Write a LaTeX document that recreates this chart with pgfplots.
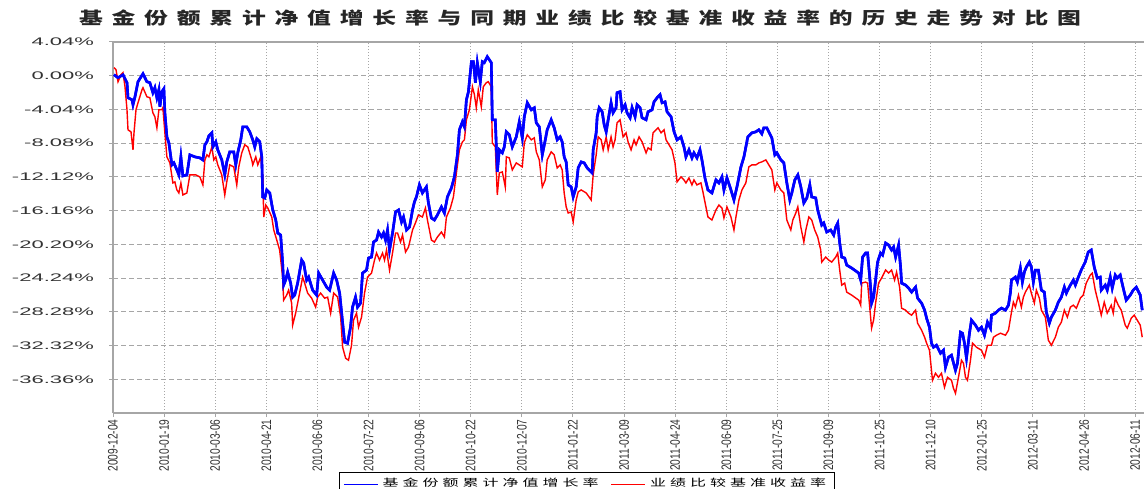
\documentclass[border=0pt]{standalone}
\usepackage{fontspec}
\setmainfont{Liberation Sans}
\newfontfamily\cjkt[LetterSpace=37]{Noto Sans CJK SC}
\newfontfamily\cjkl[LetterSpace=25]{Noto Sans CJK SC}
\usepackage{graphicx}
\usepackage{pgfplots}
\usepackage{pgfplotstable}
\pgfplotsset{compat=1.18}

\pgfplotstableread{
day val
0.9 0.12
4.5 -0.24
9.0 0.12
12.6 -0.84
13.5 -2.64
17.1 -2.88
18.0 -3.48
19.8 -2.52
22.5 -0.72
27.0 0.24
30.5 -0.72
33.2 -0.84
35.9 -2.04
37.7 -1.44
39.5 -2.64
41.3 -1.68
42.2 -3.72
44.0 -1.92
45.8 -1.56
46.7 -4.44
48.5 -7.32
50.3 -8.04
53.0 -10.68
54.8 -10.44
57.5 -11.28
59.3 -11.88
61.1 -9.72
62.9 -12.00
66.5 -11.88
69.2 -9.48
73.7 -9.72
78.2 -9.84
80.9 -10.08
82.7 -8.28
84.5 -7.92
86.3 -7.20
89.0 -6.84
89.9 -8.52
92.5 -7.92
94.3 -8.88
97.9 -10.08
100.6 -11.88
102.4 -10.32
105.1 -9.12
108.7 -9.12
110.5 -10.68
112.3 -9.24
115.0 -7.68
116.8 -6.12
120.4 -6.12
123.1 -6.72
125.8 -7.68
127.6 -8.52
129.4 -7.56
132.1 -7.92
133.9 -9.72
134.8 -14.52
136.6 -14.64
138.4 -13.68
141.1 -14.04
143.8 -16.08
146.5 -17.28
148.3 -18.84
150.9 -19.08
152.7 -22.44
153.6 -25.08
155.4 -24.48
157.2 -23.52
159.9 -24.84
161.7 -26.52
163.5 -26.28
166.2 -24.84
169.8 -22.08
171.6 -22.44
174.3 -24.48
176.1 -24.12
179.7 -25.68
183.3 -26.28
185.1 -23.64
188.7 -24.48
192.3 -25.32
195.0 -25.68
198.6 -23.64
201.3 -24.48
204.0 -26.04
206.7 -29.64
208.5 -31.92
211.1 -32.04
213.8 -30.12
215.6 -27.72
218.3 -26.52
220.1 -27.72
222.8 -27.24
224.6 -23.64
228.2 -23.28
230.0 -21.84
232.7 -21.72
234.5 -19.92
237.2 -19.68
239.0 -18.72
241.7 -19.32
243.5 -18.84
245.3 -19.68
247.1 -18.48
248.9 -20.88
251.6 -18.84
254.3 -16.32
257.0 -16.08
259.7 -17.52
261.5 -16.92
264.2 -18.48
266.9 -18.12
269.6 -16.08
271.3 -15.12
273.1 -14.52
275.8 -13.08
278.5 -14.04
282.1 -13.32
283.9 -15.24
286.6 -17.04
289.3 -17.28
292.0 -16.68
295.6 -15.72
298.3 -16.44
301.0 -14.52
304.6 -13.44
307.3 -12.12
310.0 -9.48
311.8 -6.48
314.5 -5.52
316.3 -6.12
318.1 -2.88
319.9 -1.92
322.6 1.68
324.4 1.68
326.2 -0.84
327.9 1.56
330.6 -0.72
332.4 1.68
334.2 1.56
336.9 2.28
340.5 1.56
341.4 -5.28
344.1 -5.28
345.9 -11.52
347.7 -8.88
350.4 -9.24
352.2 -8.52
354.0 -6.72
356.7 -7.08
359.4 -8.52
363.0 -7.32
365.7 -5.52
368.4 -7.44
370.2 -4.92
372.9 -3.24
376.5 -4.08
379.2 -3.84
381.0 -5.64
383.7 -6.12
386.4 -9.48
389.1 -7.68
390.8 -6.48
394.4 -5.28
397.1 -6.24
399.8 -7.68
402.5 -7.32
404.3 -7.92
406.1 -9.72
407.9 -10.32
409.7 -13.08
412.4 -13.32
414.2 -14.52
416.9 -13.32
418.7 -11.04
421.4 -10.32
424.1 -10.44
426.8 -11.04
431.3 -11.64
432.2 -8.88
434.9 -6.84
435.8 -4.92
437.6 -3.84
440.3 -4.32
442.1 -5.88
443.9 -6.72
445.7 -5.28
448.3 -3.24
450.1 -4.44
452.8 -3.84
453.7 -2.04
456.4 -1.92
458.2 -4.08
460.9 -3.48
462.7 -4.44
465.4 -5.04
467.2 -3.84
469.9 -4.92
471.7 -3.48
474.4 -3.84
476.2 -5.04
479.8 -5.28
481.6 -4.32
485.2 -4.08
487.0 -3.12
489.7 -2.64
492.4 -2.28
494.2 -3.24
496.9 -3.12
498.7 -4.32
502.3 -4.92
505.0 -6.72
507.7 -7.68
511.2 -7.32
513.9 -8.52
515.7 -9.72
518.4 -8.88
521.1 -9.84
522.9 -9.24
525.6 -9.84
528.3 -8.88
530.1 -10.08
532.8 -12.24
535.5 -13.68
539.1 -14.04
542.7 -12.48
545.4 -12.84
548.1 -12.12
549.9 -13.68
552.6 -12.24
556.2 -13.68
558.9 -14.88
561.6 -13.32
565.2 -10.92
567.9 -9.72
571.4 -7.32
575.0 -6.84
578.6 -6.72
581.3 -6.48
584.0 -6.96
585.8 -6.24
588.5 -6.24
590.3 -6.72
593.0 -7.44
595.7 -9.48
597.5 -9.24
601.1 -10.08
603.8 -10.44
606.5 -12.84
609.2 -14.88
611.0 -14.04
613.7 -12.48
616.4 -11.88
619.1 -13.32
621.8 -15.24
624.5 -14.64
627.2 -13.08
628.9 -14.52
632.5 -14.64
634.3 -16.08
637.9 -17.88
639.7 -17.64
642.4 -18.72
646.0 -18.48
648.7 -19.08
650.5 -18.12
652.3 -17.64
654.1 -20.04
655.9 -21.72
658.6 -21.84
660.4 -22.68
664.9 -23.04
671.2 -23.64
673.0 -24.48
674.7 -21.72
677.4 -21.24
679.2 -21.24
681.9 -25.32
682.8 -27.24
684.6 -26.52
686.4 -24.48
688.2 -22.32
690.9 -21.24
692.7 -21.48
695.4 -20.04
698.1 -20.28
700.8 -20.88
702.6 -20.52
704.4 -21.72
707.1 -20.28
708.9 -22.92
709.8 -24.84
713.4 -25.08
716.1 -25.44
718.8 -25.92
722.4 -25.32
724.2 -26.64
727.8 -27.24
730.5 -28.08
732.3 -29.04
734.9 -30.12
736.7 -32.04
738.5 -32.52
741.2 -32.28
744.8 -33.24
747.5 -32.88
749.3 -34.92
752.0 -33.72
754.7 -33.48
758.3 -35.28
760.1 -34.44
762.8 -30.72
764.6 -30.84
766.4 -32.04
768.2 -33.84
770.9 -30.84
772.7 -29.28
776.3 -29.88
779.0 -30.48
781.7 -30.12
784.4 -31.08
787.1 -29.52
789.8 -30.24
790.7 -28.68
794.3 -28.44
797.0 -28.08
799.7 -27.84
803.3 -28.08
806.0 -27.48
807.8 -25.92
808.7 -24.48
812.2 -24.12
814.0 -24.72
816.7 -23.04
818.5 -24.72
820.3 -23.52
822.1 -22.92
824.8 -22.32
826.6 -22.92
828.4 -24.72
830.2 -23.28
832.9 -23.28
835.6 -25.68
838.3 -25.92
840.1 -28.32
842.8 -29.64
844.6 -28.92
848.2 -28.08
850.9 -27.12
853.6 -26.52
856.3 -25.32
858.1 -26.04
861.7 -25.08
864.4 -24.48
866.2 -25.08
868.9 -24.12
871.5 -23.28
875.1 -22.32
877.8 -21.12
880.5 -20.88
883.2 -22.92
885.9 -24.24
888.6 -24.12
889.5 -25.68
893.1 -25.08
894.9 -25.68
897.6 -24.12
899.4 -25.44
902.1 -23.88
903.9 -24.24
906.6 -23.88
909.3 -25.44
912.0 -26.88
915.6 -26.28
918.3 -25.68
921.0 -25.32
924.6 -26.28
926.4 -28.08
}\fund

\pgfplotstableread{
day val
0.9 0.96
2.7 0.72
4.5 -0.72
7.2 0.12
9.0 0.36
10.8 -1.32
12.6 -4.08
13.5 -6.48
16.2 -6.72
18.0 -8.88
18.9 -6.84
20.7 -4.08
22.5 -3.24
26.1 -1.68
27.0 -1.44
30.5 -2.52
33.2 -2.64
35.9 -4.44
37.7 -4.92
39.5 -6.24
41.3 -4.08
44.0 -4.08
44.9 -3.84
46.7 -6.84
48.5 -9.72
51.2 -10.44
53.9 -12.84
55.7 -12.72
57.5 -13.68
59.3 -14.04
61.1 -12.84
62.9 -14.28
66.5 -14.04
69.2 -11.88
74.6 -11.88
78.2 -12.12
80.9 -13.08
82.7 -10.08
84.5 -9.48
86.3 -9.72
89.0 -8.52
90.7 -10.08
92.5 -9.72
94.3 -10.68
97.9 -11.88
100.6 -14.28
102.4 -12.72
105.1 -10.68
108.7 -10.92
111.4 -13.08
113.2 -10.92
115.9 -9.24
118.6 -8.28
121.3 -8.52
124.9 -10.08
125.8 -10.68
128.5 -9.72
130.3 -10.68
133.0 -9.72
134.8 -12.12
135.7 -16.92
137.5 -15.48
139.3 -15.84
142.9 -16.92
144.7 -18.48
147.4 -19.68
150.0 -20.88
152.7 -24.12
153.6 -26.88
156.3 -26.28
158.1 -25.68
160.8 -27.24
161.7 -29.88
164.4 -28.44
167.1 -26.64
170.7 -24.12
172.5 -24.84
175.2 -26.04
178.8 -26.64
182.4 -27.72
184.2 -26.52
186.9 -26.04
190.5 -26.64
193.2 -26.52
195.9 -28.44
198.6 -26.04
202.2 -26.52
204.9 -28.92
206.7 -32.52
209.4 -33.84
212.0 -34.08
214.7 -32.28
216.5 -29.28
219.2 -28.44
221.0 -30.12
223.7 -28.92
226.4 -26.04
229.1 -24.12
232.7 -23.64
235.4 -22.08
237.2 -21.24
239.9 -22.08
242.6 -21.24
244.4 -22.08
246.2 -20.88
248.9 -23.28
251.6 -21.24
254.3 -18.84
256.1 -18.84
258.8 -19.92
260.6 -19.08
263.3 -21.12
266.0 -20.52
269.6 -18.48
272.2 -17.64
274.9 -16.68
278.5 -16.92
281.2 -15.84
283.0 -17.28
286.6 -19.68
289.3 -19.92
292.0 -19.32
295.6 -18.72
298.3 -19.32
300.1 -16.92
303.7 -15.84
306.4 -14.52
309.1 -11.64
311.8 -8.88
314.5 -7.92
316.3 -7.68
318.1 -5.28
320.8 -4.08
323.5 -1.32
325.3 -2.28
327.0 -3.84
328.8 -1.68
331.5 -3.72
333.3 -1.32
336.0 -0.84
337.8 -0.72
340.5 -1.32
341.4 -8.04
344.1 -8.52
345.9 -14.28
347.7 -11.64
350.4 -11.52
353.1 -13.32
354.0 -9.72
356.7 -9.84
359.4 -11.28
363.0 -10.44
365.7 -10.68
368.4 -10.92
370.2 -8.04
372.9 -7.08
376.5 -7.68
379.2 -7.44
381.0 -9.12
383.7 -10.08
386.4 -13.32
389.1 -12.48
390.8 -10.08
394.4 -9.12
397.1 -9.48
399.8 -11.04
402.5 -10.68
404.3 -11.28
406.1 -14.04
407.9 -15.72
409.7 -16.44
412.4 -16.32
414.2 -17.52
416.9 -14.88
418.7 -13.92
421.4 -13.68
425.9 -14.04
430.4 -14.88
432.2 -11.88
434.9 -9.48
436.7 -7.32
439.4 -7.68
441.2 -8.88
443.9 -7.32
445.7 -8.88
448.3 -7.32
450.1 -8.52
451.9 -7.68
453.7 -5.64
456.4 -5.28
459.1 -7.32
461.8 -6.84
463.6 -7.92
466.3 -8.88
469.0 -7.68
470.8 -8.28
473.5 -7.32
476.2 -7.92
479.8 -9.24
481.6 -8.64
484.3 -8.88
486.1 -6.84
488.8 -6.48
490.6 -6.24
493.3 -6.84
496.0 -6.48
497.8 -7.68
500.5 -8.28
503.2 -8.88
505.8 -10.44
507.7 -12.72
511.2 -12.12
513.9 -12.48
515.7 -12.84
518.4 -12.24
521.1 -13.08
522.9 -12.48
525.6 -13.08
529.2 -12.84
531.0 -13.92
533.7 -15.72
535.5 -16.92
539.1 -17.28
542.7 -16.08
545.4 -15.48
548.1 -15.84
549.9 -17.04
552.6 -15.72
556.2 -16.92
558.9 -18.48
560.7 -16.92
563.4 -14.88
566.1 -13.68
569.6 -12.84
572.3 -10.92
575.0 -10.68
578.6 -10.68
581.3 -10.44
584.0 -10.32
587.6 -10.08
590.3 -10.68
593.0 -11.28
595.7 -13.68
597.5 -12.84
601.1 -13.68
603.8 -14.04
606.5 -17.28
610.1 -18.48
611.9 -17.28
614.6 -16.44
616.4 -15.72
619.1 -18.12
621.8 -19.92
623.6 -18.48
626.3 -16.92
628.9 -17.28
631.6 -18.48
634.3 -19.32
637.0 -20.88
637.9 -22.32
641.5 -21.72
644.2 -22.08
646.9 -22.32
650.5 -21.72
652.3 -21.24
654.1 -23.28
655.9 -25.08
658.6 -24.84
660.4 -25.92
664.9 -26.28
671.2 -26.88
673.0 -27.48
673.9 -24.84
677.4 -24.72
679.2 -24.84
681.9 -28.92
682.8 -30.24
684.6 -29.28
686.4 -27.24
689.1 -24.84
691.8 -24.24
695.4 -23.28
698.1 -23.64
700.8 -23.28
703.5 -24.48
705.3 -23.52
708.0 -25.32
709.8 -27.84
713.4 -28.08
716.1 -28.44
718.8 -28.68
722.4 -28.08
724.2 -29.64
727.8 -30.48
730.5 -31.32
732.3 -32.04
734.9 -32.88
736.7 -35.28
737.6 -36.48
740.3 -35.64
743.0 -36.12
745.7 -35.64
748.4 -37.32
751.1 -36.12
754.7 -36.48
756.5 -37.44
758.3 -38.04
761.0 -36.12
763.7 -34.08
765.5 -34.44
767.3 -36.12
769.1 -36.48
771.8 -34.08
773.6 -32.04
777.2 -32.52
781.7 -32.88
784.4 -33.72
787.1 -32.28
790.7 -32.28
792.5 -31.32
795.2 -31.08
798.8 -30.84
803.3 -31.08
806.0 -30.48
808.7 -28.32
810.4 -27.12
812.2 -27.72
815.0 -26.28
817.6 -27.72
819.4 -26.52
821.2 -25.92
824.8 -25.08
826.6 -26.04
829.3 -27.24
831.1 -25.68
833.8 -26.64
835.6 -28.08
839.2 -28.92
841.9 -31.68
844.6 -32.28
848.2 -31.32
850.9 -30.12
853.6 -29.52
856.3 -28.08
859.0 -28.92
861.7 -27.72
864.4 -27.48
867.1 -27.84
870.7 -26.64
873.3 -26.28
876.0 -24.84
879.6 -23.88
881.4 -23.64
884.1 -25.68
886.8 -27.12
889.5 -28.68
892.2 -27.12
894.9 -28.44
898.5 -27.48
900.3 -28.44
902.1 -26.64
904.8 -27.48
907.5 -28.08
911.1 -29.88
912.9 -30.24
916.5 -29.04
919.2 -28.68
921.9 -29.28
924.6 -29.88
926.4 -31.32
}\bench

\newcommand\sy[1]{\scalebox{2}[1]{#1}}
\newcommand\sx[1]{\scalebox{1}[1.35]{#1}}

\begin{document}
\begin{tikzpicture}[x=1pt,y=1pt]
\useasboundingbox (0,0) rectangle (572,244);
\node[text=black!85] at (290,235) {\scalebox{1.4}[1]{\fontsize{8.5pt}{10pt}\cjkt\bfseries 基金份额累计净值增长率与同期业绩比较基准收益率的历史走势对比图}};
\begin{axis}[
  at={(56.5pt,37.5pt)}, anchor=south west,
  width=515.5pt, height=185.5pt, scale only axis,
  xmin=0, xmax=928, ymin=-40.4, ymax=4.04,
  axis x line*=bottom, axis y line*=left,
  axis line style={gray!70, line width=1pt, -},
  xtick={0,46,...,920},
  xticklabels={\sx{2009-12-04},\sx{2010-01-19},\sx{2010-03-06},\sx{2010-04-21},\sx{2010-06-06},\sx{2010-07-22},\sx{2010-09-06},\sx{2010-10-22},\sx{2010-12-07},\sx{2011-01-22},\sx{2011-03-09},\sx{2011-04-24},\sx{2011-06-09},\sx{2011-07-25},\sx{2011-09-09},\sx{2011-10-25},\sx{2011-12-10},\sx{2012-01-25},\sx{2012-03-11},\sx{2012-04-26},\sx{2012-06-11}},
  ytick={4.04,0,-4.04,-8.08,-12.12,-16.16,-20.20,-24.24,-28.28,-32.32,-36.36},
  yticklabels={\sy{4.04\%},\sy{0.00\%},\sy{-4.04\%},\sy{-8.08\%},\sy{-12.12\%},\sy{-16.16\%},\sy{-20.20\%},\sy{-24.24\%},\sy{-28.28\%},\sy{-32.32\%},\sy{-36.36\%}},
  xticklabel style={rotate=90, anchor=east, font=\fontsize{5.1pt}{6pt}\selectfont, text=black!80, inner sep=1pt},
  yticklabel style={anchor=east, font=\fontsize{5.5pt}{6pt}\selectfont, text=black!80},
  yticklabel shift=4pt,
  tick align=outside, major tick length=2pt,
  tick style={gray!70, line width=0.5pt},
  xmajorgrids, ymajorgrids,
  x grid style={gray!70, line width=0.5pt, dash pattern=on 0.6pt off 0.9pt},
  y grid style={gray!70, line width=0.5pt, dash pattern=on 2.5pt off 1.5pt},
  legend columns=2,
  legend style={at={(0.2192,-0.159)}, anchor=north west, fill=white,
    font=\fontsize{5pt}{6pt}\cjkl\selectfont, inner ysep=1pt, inner xsep=2pt,
    /tikz/every even column/.append style={column sep=4pt}},
  legend image post style={line width=0.6pt},
  clip=true,
]
\addplot[color=blue, line width=1.3pt] table[x=day,y=val] {\fund};
\addlegendentry{\scalebox{1.6}[1]{基金份额累计净值增长率}}
\addplot[color=red, line width=0.7pt] table[x=day,y=val] {\bench};
\addlegendentry{\scalebox{1.6}[1]{业绩比较基准收益率}}
\addplot[color=blue, line width=1.3pt, forget plot] table[x=day,y=val] {\fund};
\draw[gray!70, line width=1pt] (rel axis cs:0,1) -- (rel axis cs:1,1);
\end{axis}
\end{tikzpicture}
\end{document}
